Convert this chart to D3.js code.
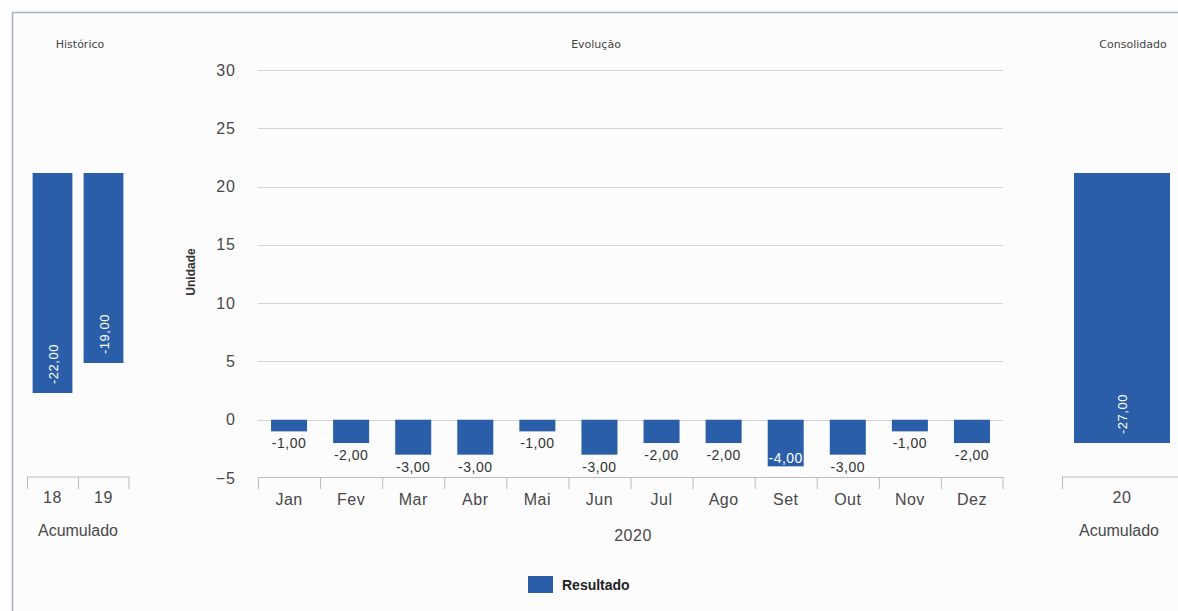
<!DOCTYPE html>
<html>
<head>
<meta charset="utf-8">
<script src="https://cdn.jsdelivr.net/npm/d3@7"></script>
<style>
  body { margin: 0; background: #fdfdfd; }
  svg { display: block; font-family: "Liberation Sans", Arial, sans-serif; }
</style>
</head>
<body>
<div id="chart"></div>
<script>
// data
var months = ["Jan", "Fev", "Mar", "Abr", "Mai", "Jun", "Jul", "Ago", "Set", "Out", "Nov", "Dez"];
var monthValues = [-1, -2, -3, -3, -1, -3, -2, -2, -4, -3, -1, -2];
var histYears = ["18", "19"];
var histValues = [-22, -19];
var consYears = ["20"];
var consValues = [-27];
var yTicks = [30, 25, 20, 15, 10, 5, 0, -5];

var svgWidth = 1178;
var svgHeight = 611;
var barColor = "#2a5ea8";
var textColor = "#484848";
var fmt = function(v) { return v.toFixed(2).replace(".", ","); };

var svg = d3.select("#chart")
  .append("svg")
  .attr("width", svgWidth)
  .attr("height", svgHeight);

// outer frame
svg.append("rect")
  .attr("x", 12.5).attr("y", 12.5)
  .attr("width", svgWidth).attr("height", svgHeight)
  .attr("fill", "#fcfcfd")
  .attr("stroke", "#9fb2d4")
  .attr("stroke-width", 1.5);

// panel titles
var titles = [["Histórico", 80], ["Evolução", 596], ["Consolidado", 1133]];
svg.selectAll(".ptitle")
  .data(titles)
  .enter()
  .append("text")
  .attr("x", d => d[1])
  .attr("y", 48)
  .attr("text-anchor", "middle")
  .style("font-family", "DejaVu Sans, sans-serif")
  .style("font-size", "11px")
  .style("fill", "#444")
  .text(d => d[0]);

// ---------- middle chart (Evolução) ----------
var axisY = 477;
var xScale = d3.scaleBand().domain(months).range([258, 1003]);
var yScale = d3.scaleLinear().domain([-5, 30]).range([478, 70]);
var bw = xScale.bandwidth();
var barW = bw * 0.58;

// gridlines
svg.append("g")
  .selectAll("line")
  .data(yTicks.filter(t => t > -5))
  .enter()
  .append("line")
  .attr("x1", 258).attr("x2", 1003)
  .attr("y1", d => Math.round(yScale(d)) + 0.5)
  .attr("y2", d => Math.round(yScale(d)) + 0.5)
  .attr("stroke", "#d4d4d4");

// y axis labels
var leftAxis = d3.axisLeft(yScale).tickValues(yTicks).tickSize(0).tickPadding(0);
svg.append("g")
  .attr("transform", "translate(236,0)")
  .call(leftAxis)
  .call(g => g.select(".domain").remove())
  .selectAll("text")
  .style("font-size", "16px")
  .style("letter-spacing", "1px")
  .style("font-family", "Liberation Sans, Arial, sans-serif")
  .style("fill", textColor);

svg.append("text")
  .attr("transform", "translate(195,272) rotate(-90)")
  .attr("text-anchor", "middle")
  .style("font-size", "12px")
  .style("font-weight", "bold")
  .style("fill", "#333")
  .text("Unidade");

// bars
var bars = svg.append("g");
bars.selectAll("rect")
  .data(months)
  .enter()
  .append("rect")
  .attr("x", (d) => xScale(d) + (bw - barW) / 2)
  .attr("y", yScale(0))
  .attr("width", barW)
  .attr("height", (d, i) => yScale(monthValues[i]) - yScale(0))
  .attr("fill", barColor);

// value labels: below bar, or inside when there is no room
bars.selectAll("text")
  .data(months)
  .enter()
  .append("text")
  .attr("x", d => xScale(d) + bw / 2)
  .attr("y", (d, i) => {
    var b = yScale(monthValues[i]);
    return b + 20 > axisY ? b - 3 : b + 17;
  })
  .attr("text-anchor", "middle")
  .style("font-size", "14px")
  .style("letter-spacing", "0.5px")
  .style("fill", (d, i) => yScale(monthValues[i]) + 20 > axisY ? "#fff" : "#333")
  .text((d, i) => fmt(monthValues[i]));

// x axis
var bottomAxis = d3.axisBottom(xScale).tickSize(0).tickPadding(17);
var xg = svg.append("g")
  .attr("transform", "translate(0," + axisY + ")")
  .call(bottomAxis);
xg.select(".domain").attr("stroke", "#bbb");
xg.selectAll("text")
  .style("font-size", "16px")
  .style("letter-spacing", "0.5px")
  .style("font-family", "Liberation Sans, Arial, sans-serif")
  .style("fill", textColor);
xg.append("g")
  .selectAll("line")
  .data(months.concat(["end"]))
  .enter()
  .append("line")
  .attr("x1", d => d === "end" ? 1003 : xScale(d) + 0.5)
  .attr("x2", d => d === "end" ? 1003 : xScale(d) + 0.5)
  .attr("y1", 0).attr("y2", 12)
  .attr("stroke", "#bbb");

svg.append("text")
  .attr("x", 633).attr("y", 541)
  .attr("text-anchor", "middle")
  .style("font-size", "16px")
  .style("letter-spacing", "0.5px")
  .style("fill", textColor)
  .text("2020");

// ---------- side panels (Histórico / Consolidado) ----------
var ySide = d3.scaleLinear().domain([0, -30]).range([173, 473]);

function sidePanel(years, values, x0, x1, barFrac, lineEnd, labelX) {
  var xs = d3.scaleBand().domain(years).range([x0, x1]);
  var w = xs.bandwidth() * barFrac;
  var g = svg.append("g");

  g.selectAll("rect")
    .data(years)
    .enter()
    .append("rect")
    .attr("x", d => xs(d) + (xs.bandwidth() - w) / 2)
    .attr("y", ySide(0))
    .attr("width", w)
    .attr("height", (d, i) => ySide(values[i]) - ySide(0))
    .attr("fill", barColor);

  g.selectAll(".vlab")
    .data(years)
    .enter()
    .append("text")
    .attr("transform", (d, i) => "translate(" + (xs(d) + xs.bandwidth() / 2 + 5) + "," + (ySide(values[i]) - 9) + ") rotate(-90)")
    .style("font-size", "13px")
    .style("letter-spacing", "0.5px")
    .style("fill", "#fff")
    .text((d, i) => fmt(values[i]));

  var ax = g.append("g")
    .attr("transform", "translate(0," + axisY + ")")
    .call(d3.axisBottom(xs).tickSize(0).tickPadding(15));
  ax.select(".domain").remove();
  ax.append("line")
    .attr("x1", x0).attr("x2", lineEnd)
    .attr("stroke", "#bbb");
  ax.selectAll("text")
    .style("font-size", "16px")
    .style("letter-spacing", "0.5px")
    .style("font-family", "Liberation Sans, Arial, sans-serif")
    .style("fill", textColor);
  ax.append("g")
    .selectAll("line")
    .data(years.concat(["end"]))
    .enter()
    .append("line")
    .attr("x1", d => d === "end" ? x1 : xs(d) + 0.5)
    .attr("x2", d => d === "end" ? x1 : xs(d) + 0.5)
    .attr("y1", 0).attr("y2", 12)
    .attr("stroke", "#bbb");

  g.append("text")
    .attr("x", labelX)
    .attr("y", 536)
    .attr("text-anchor", "middle")
    .style("font-size", "16px")
    .style("fill", textColor)
    .text("Acumulado");
}

sidePanel(histYears, histValues, 27, 129, 0.78, 129, 78);
sidePanel(consYears, consValues, 1062, 1182, 0.8, 1178, 1119);

// legend
svg.append("rect")
  .attr("x", 528).attr("y", 576)
  .attr("width", 25).attr("height", 17)
  .attr("fill", barColor);
svg.append("text")
  .attr("x", 562).attr("y", 590)
  .style("font-size", "14px")
  .style("font-weight", "bold")
  .style("fill", "#222")
  .text("Resultado");
</script>
</body>
</html>
